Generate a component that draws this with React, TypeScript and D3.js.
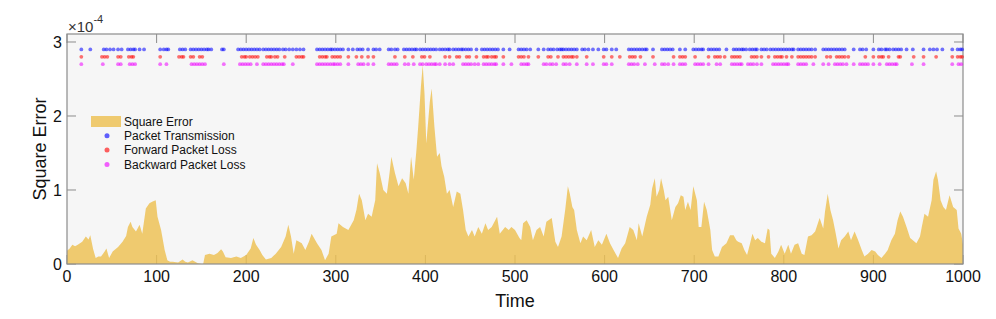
import { useEffect, useRef } from "react";
import * as d3 from "d3";

// square error, in units of 1e-4
const errTime = [
  0, 3, 6, 9, 12, 17, 21, 24, 26, 29, 32, 35, 38, 42, 44, 47, 51, 54, 57, 62, 66, 68, 71, 73, 77, 81, 84, 88, 92, 95, 99,
  101, 105, 109, 112, 115, 118, 124, 129, 132, 135, 140, 146, 150, 152, 154, 159, 164, 168, 172, 174, 177, 183, 189, 194,
  200, 205, 208, 211, 215, 218, 222, 228, 233, 239, 244, 247, 250, 253, 256, 262, 266, 270, 273, 279, 284, 288, 292, 295,
  301, 303, 308, 314, 320, 323, 326, 329, 333, 336, 340, 344, 346, 349, 353, 357, 360, 362, 366, 370, 374, 378, 381, 384,
  387, 390, 392, 395, 397, 399, 401, 405, 407, 410, 413, 416, 418, 421, 424, 427, 431, 435, 439, 442, 445, 448, 452, 455,
  459, 463, 467, 470, 474, 480, 483, 489, 493, 496, 500, 505, 507, 509, 513, 517, 520, 524, 528, 532, 535, 541, 545, 548,
  552, 556, 559, 561, 564, 566, 569, 573, 576, 580, 585, 589, 593, 597, 602, 606, 610, 615, 619, 623, 628, 632, 636, 638,
  642, 647, 651, 653, 656, 658, 661, 663, 666, 668, 671, 675, 679, 682, 685, 688, 690, 693, 696, 699, 703, 705, 708, 711,
  714, 718, 720, 723, 727, 731, 736, 740, 744, 747, 749, 753, 756, 759, 762, 765, 768, 771, 775, 779, 782, 784, 786, 790,
  794, 797, 801, 805, 808, 812, 816, 820, 823, 827, 831, 835, 840, 844, 846, 849, 852, 855, 858, 861, 864, 868, 872, 875,
  879, 883, 887, 890, 894, 898, 902, 905, 909, 913, 916, 920, 924, 927, 930, 933, 937, 941, 944, 948, 952, 954, 957, 961,
  965, 967, 970, 972, 975, 978, 981, 985, 989, 993, 995, 998, 1000,
];
const errValue = [
  0.18, 0.21, 0.26, 0.24, 0.26, 0.3, 0.37, 0.33, 0.39, 0.21, 0.08, 0.1, 0.1, 0.17, 0.21, 0.08, 0.17, 0.2, 0.23, 0.3, 0.38,
  0.5, 0.57, 0.5, 0.44, 0.53, 0.41, 0.75, 0.82, 0.84, 0.86, 0.64, 0.46, 0.19, 0.05, 0.03, 0.03, 0.02, 0.06, 0.03, 0.02,
  0.05, 0.01, 0.0, 0.0, 0.12, 0.14, 0.12, 0.15, 0.2, 0.17, 0.09, 0.08, 0.1, 0.08, 0.12, 0.21, 0.35, 0.26, 0.19, 0.12, 0.06,
  0.08, 0.14, 0.23, 0.37, 0.53, 0.37, 0.14, 0.32, 0.28, 0.19, 0.3, 0.41, 0.28, 0.19, 0.05, 0.14, 0.37, 0.41, 0.55, 0.5,
  0.46, 0.59, 0.73, 0.95, 0.86, 0.59, 0.68, 0.64, 0.86, 1.36, 1.23, 1.0, 0.95, 1.23, 1.45, 1.23, 1.05, 1.16, 1.09, 0.95,
  1.45, 1.14, 1.54, 1.86, 2.4, 2.69, 2.3, 1.63, 2.2, 2.37, 1.86, 1.45, 1.5, 1.32, 1.18, 0.95, 1.0, 0.77, 0.98, 0.95, 0.73,
  0.46, 0.37, 0.46, 0.37, 0.5, 0.41, 0.55, 0.46, 0.5, 0.64, 0.41, 0.5, 0.46, 0.5, 0.46, 0.35, 0.32, 0.55, 0.59, 0.5, 0.32,
  0.46, 0.5, 0.37, 0.57, 0.62, 0.3, 0.23, 0.37, 0.73, 1.05, 0.96, 0.77, 0.73, 0.46, 0.28, 0.37, 0.32, 0.46, 0.23, 0.32,
  0.26, 0.41, 0.28, 0.19, 0.08, 0.21, 0.28, 0.5, 0.46, 0.32, 0.55, 0.37, 0.64, 0.8, 1.02, 1.16, 0.91, 1.0, 1.16, 1.0, 0.86,
  0.91, 0.59, 0.77, 0.82, 0.93, 0.91, 0.73, 0.84, 0.73, 1.05, 0.86, 0.5, 0.5, 0.84, 0.73, 0.46, 0.19, 0.1, 0.1, 0.23, 0.28,
  0.39, 0.39, 0.32, 0.3, 0.28, 0.19, 0.12, 0.26, 0.41, 0.32, 0.35, 0.3, 0.28, 0.48, 0.46, 0.14, 0.08, 0.17, 0.26, 0.14,
  0.26, 0.14, 0.26, 0.28, 0.14, 0.12, 0.37, 0.39, 0.44, 0.62, 0.48, 0.71, 0.95, 0.73, 0.59, 0.41, 0.21, 0.32, 0.37, 0.44,
  0.32, 0.44, 0.32, 0.19, 0.1, 0.14, 0.19, 0.17, 0.12, 0.08, 0.14, 0.19, 0.32, 0.41, 0.59, 0.71, 0.64, 0.5, 0.35, 0.32,
  0.28, 0.37, 0.5, 0.68, 0.64, 0.86, 1.14, 1.25, 1.14, 0.86, 0.77, 0.73, 0.93, 0.77, 0.73, 0.48, 0.41, 0.26,
];

// event times for the three marker rows
const txTimes = [
  16, 26, 41, 44, 48, 52, 57, 61, 68, 71, 74, 76, 81, 86, 104, 108, 111, 113, 126, 129, 132, 138, 141, 144, 147, 150, 153,
  156, 158, 161, 173, 175, 191, 194, 197, 200, 203, 206, 209, 212, 215, 219, 222, 225, 228, 231, 234, 237, 241, 244, 248,
  252, 256, 260, 264, 279, 282, 285, 288, 291, 294, 296, 299, 302, 305, 308, 314, 319, 324, 327, 330, 336, 342, 345, 349,
  359, 362, 366, 369, 376, 379, 382, 385, 388, 390, 394, 397, 400, 403, 406, 409, 412, 416, 419, 422, 425, 427, 431, 434,
  437, 440, 442, 445, 448, 451, 457, 463, 466, 469, 472, 475, 478, 481, 487, 494, 504, 507, 510, 513, 517, 526, 532, 537,
  540, 543, 547, 550, 552, 554, 557, 560, 563, 566, 569, 575, 578, 582, 587, 593, 599, 602, 608, 613, 627, 630, 633, 636,
  639, 642, 645, 647, 654, 664, 667, 670, 673, 676, 684, 690, 699, 702, 705, 708, 710, 716, 719, 722, 725, 728, 736, 744,
  747, 750, 753, 755, 758, 762, 765, 768, 770, 775, 778, 781, 785, 788, 791, 794, 797, 800, 803, 806, 809, 811, 816, 819,
  822, 825, 828, 831, 835, 844, 847, 850, 853, 856, 859, 862, 865, 868, 878, 885, 888, 892, 900, 906, 909, 913, 915, 918,
  922, 925, 928, 931, 937, 944, 956, 963, 967, 971, 977, 988, 994, 997, 999,
];
const fwdLossTimes = [
  16, 39, 42, 45, 57, 60, 69, 72, 74, 104, 125, 128, 130, 138, 141, 148, 151, 195, 198, 200, 204, 207, 210, 213, 223, 226,
  228, 232, 235, 243, 256, 259, 262, 264, 282, 285, 288, 290, 296, 299, 302, 305, 314, 323, 329, 336, 342, 366, 377, 386,
  396, 399, 405, 422, 427, 435, 438, 446, 449, 457, 465, 468, 470, 474, 477, 479, 487, 504, 507, 510, 515, 526, 537, 540,
  548, 554, 557, 560, 563, 565, 569, 580, 599, 608, 617, 628, 631, 634, 640, 654, 677, 684, 687, 690, 701, 716, 723, 726,
  729, 734, 742, 745, 748, 751, 764, 767, 770, 775, 783, 790, 793, 796, 798, 803, 809, 816, 819, 822, 825, 828, 831, 835,
  848, 852, 859, 862, 865, 868, 872, 891, 900, 906, 909, 911, 917, 928, 930, 945, 956, 970, 988, 994, 997, 999,
];
const bwdLossTimes = [
  16, 40, 57, 60, 70, 73, 76, 104, 111, 139, 142, 145, 148, 151, 154, 175, 193, 196, 199, 202, 205, 212, 219, 222, 225,
  228, 231, 234, 237, 240, 242, 252, 279, 282, 285, 288, 291, 294, 297, 299, 302, 305, 314, 325, 328, 331, 336, 342, 359,
  362, 365, 368, 377, 381, 387, 394, 397, 401, 404, 407, 410, 412, 416, 422, 427, 431, 442, 445, 448, 451, 455, 459, 465,
  468, 471, 474, 477, 479, 487, 496, 507, 510, 513, 515, 532, 535, 539, 542, 546, 554, 557, 561, 569, 580, 587, 599, 602,
  608, 627, 630, 633, 637, 645, 656, 664, 667, 671, 677, 684, 687, 690, 701, 704, 707, 710, 716, 725, 729, 742, 745, 748,
  751, 753, 760, 763, 766, 770, 775, 788, 791, 794, 797, 800, 803, 805, 816, 819, 822, 825, 833, 844, 850, 857, 860, 863,
  866, 870, 878, 885, 888, 891, 894, 900, 907, 915, 918, 921, 924, 926, 943, 956, 988, 995, 998,
];

const seriesNames = ["Packet Transmission", "Forward Packet Loss", "Backward Packet Loss"];
const seriesLevels = [2.9, 2.8, 2.7];
const seriesColors = ["#0000ff", "#ff0000", "#ee00ff"];
const xTicks = [0, 100, 200, 300, 400, 500, 600, 700, 800, 900, 1000];
const yTicks = [0, 1, 2, 3];

export default function App() {
  const svgRef = useRef<SVGSVGElement | null>(null);

  useEffect(() => {
    if (!svgRef.current) return;
    const width = 996;
    const height = 319;
    const margin = { top: 34, right: 33, bottom: 55, left: 67 };
    const font = "'Liberation Sans', Arial, Helvetica, sans-serif";

    const svg = d3.select(svgRef.current);
    svg.selectAll("*").remove();

    const x = d3.scaleLinear().domain([0, 1000]).range([margin.left, width - margin.right]);
    const y = d3.scaleLinear().domain([0, 3.108]).range([height - margin.bottom, margin.top]);
    const [x0, x1] = x.range();
    const [yB, yT] = y.range();

    svg
      .append("rect")
      .attr("x", x0)
      .attr("y", yT)
      .attr("width", x1 - x0)
      .attr("height", yB - yT)
      .attr("fill", "#f6f6f6");

    // ticks (inward on all four sides)
    const tickLen = 9;
    const tickColor = "#8c8c8c";
    const tk = svg.append("g").attr("stroke", tickColor).attr("stroke-width", 1);
    xTicks.forEach((t) => {
      tk.append("line").attr("x1", x(t)).attr("x2", x(t)).attr("y1", yB).attr("y2", yB - tickLen);
      tk.append("line").attr("x1", x(t)).attr("x2", x(t)).attr("y1", yT).attr("y2", yT + tickLen);
    });
    yTicks.forEach((v) => {
      tk.append("line").attr("x1", x0).attr("x2", x0 + tickLen).attr("y1", y(v)).attr("y2", y(v));
      tk.append("line").attr("x1", x1).attr("x2", x1 - tickLen).attr("y1", y(v)).attr("y2", y(v));
    });

    const errData = errTime.map((t, i) => ({ t, v: errValue[i] }));
    const area = d3
      .area<{ t: number; v: number }>()
      .x((d) => x(d.t))
      .y0(yB)
      .y1((d) => y(d.v));
    svg
      .append("path")
      .datum(errData)
      .attr("d", area)
      .attr("fill", "rgb(237,192,80)")
      .attr("fill-opacity", 0.82);

    // box
    svg
      .append("rect")
      .attr("x", x0)
      .attr("y", yT)
      .attr("width", x1 - x0)
      .attr("height", yB - yT)
      .attr("fill", "none")
      .attr("stroke", "#8c8c8c")
      .attr("stroke-width", 1.2);

    // event markers
    [txTimes, fwdLossTimes, bwdLossTimes].forEach((times, i) => {
      svg
        .append("g")
        .selectAll("circle")
        .data(times)
        .join("circle")
        .attr("cx", (d) => x(d))
        .attr("cy", y(seriesLevels[i]))
        .attr("r", 1.9)
        .attr("fill", seriesColors[i])
        .attr("fill-opacity", 0.55);
    });

    // axis labels
    const tl = svg.append("g").attr("font-family", font).attr("fill", "#111");
    xTicks.forEach((t) => {
      tl.append("text")
        .attr("x", x(t))
        .attr("y", yB + 18)
        .attr("text-anchor", "middle")
        .attr("font-size", 16)
        .text(t);
    });
    yTicks.forEach((v) => {
      tl.append("text")
        .attr("x", x0 - 5)
        .attr("y", y(v))
        .attr("dy", "0.36em")
        .attr("text-anchor", "end")
        .attr("font-size", 16)
        .text(v);
    });

    const expo = tl.append("text").attr("x", x0 + 1).attr("y", 32).attr("font-size", 15).attr("fill", "#333");
    expo.append("tspan").text("×10");
    expo.append("tspan").attr("dy", -9).attr("font-size", 11).text("-4");

    tl.append("text")
      .attr("x", (x0 + x1) / 2)
      .attr("y", 307)
      .attr("text-anchor", "middle")
      .attr("font-size", 18)
      .text("Time");

    tl.append("text")
      .attr("transform", `translate(46,${(yT + yB) / 2}) rotate(-90)`)
      .attr("text-anchor", "middle")
      .attr("font-size", 18)
      .text("Square Error");

    // legend
    const lg = svg.append("g").attr("font-family", font).attr("font-size", 12).attr("fill", "#111");
    lg.append("rect")
      .attr("x", 91)
      .attr("y", 116)
      .attr("width", 30)
      .attr("height", 11)
      .attr("fill", "rgb(237,192,80)")
      .attr("fill-opacity", 0.82);
    lg.append("text").attr("x", 124).attr("y", 126).text("Square Error");
    seriesNames.forEach((name, i) => {
      const by = 140 + i * 14.3;
      lg.append("circle")
        .attr("cx", 107)
        .attr("cy", by - 4.2)
        .attr("r", 2.5)
        .attr("fill", seriesColors[i])
        .attr("fill-opacity", 0.62);
      lg.append("text").attr("x", 124).attr("y", by).text(name);
    });
  }, []);

  return (
    <svg
      ref={svgRef}
      width={996}
      height={319}
      viewBox="0 0 996 319"
      style={{ position: "absolute", left: 0, top: 0, background: "#fff" }}
    ></svg>
  );
}
